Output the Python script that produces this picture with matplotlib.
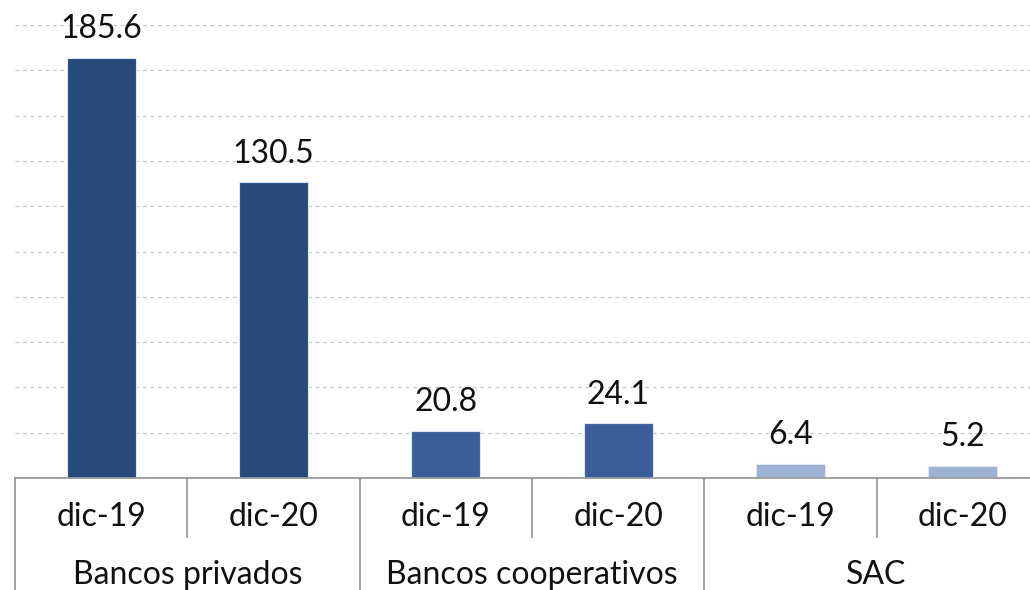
import matplotlib.pyplot as plt
import numpy as np

# Data
groups = ['Bancos privados', 'Bancos cooperativos', 'SAC']
periods = ['dic-19', 'dic-20']
values = [185.6, 130.5, 20.8, 24.1, 6.4, 5.2]
group_colors = ['#264a7a', '#3a5e9a', '#9cb1d4']

plt.rcParams['font.family'] = ['Lato', 'DejaVu Sans']

fig = plt.figure(figsize=(10.3, 5.9), dpi=100)
ax = fig.add_axes([15 / 1030, 112 / 590, 1 - 15 / 1030, 453 / 590])

x = np.arange(len(values))
colors = [group_colors[i // len(periods)] for i in range(len(values))]
bars = ax.bar(x, values, width=0.4, color=colors, edgecolor='#dfe6f0',
              linewidth=0.8, zorder=3)

for rect, v in zip(bars, values):
    ax.annotate('%.1f' % v, (rect.get_x() + rect.get_width() / 2, v),
                xytext=(0, 10), textcoords='offset points',
                ha='center', va='bottom', fontsize=23, color='#111111',
                annotation_clip=False)

ax.set_ylim(0, 200)
ax.set_xlim(-0.5, 5.39)
ax.set_yticks(np.arange(20, 201, 20))
ax.yaxis.grid(True, color='#c8c8c8', linestyle=(0, (3, 3)), linewidth=0.9,
              zorder=0)
ax.tick_params(left=False, labelleft=False, bottom=False, labelbottom=False)
for s in ['top', 'right', 'left']:
    ax.spines[s].set_visible(False)
ax.spines['bottom'].set_color('#9a9a9a')
ax.spines['bottom'].set_linewidth(1.3)
ax.spines['bottom'].set_zorder(4)

trans = ax.get_xaxis_transform()
# period labels and short separators
for i, p in enumerate(periods * len(groups)):
    ax.text(i, -0.087, p, transform=trans, ha='center', va='center',
            fontsize=23, color='#111111')
for k in range(len(groups)):
    xs = k * len(periods) + 0.5
    ax.plot([xs, xs], [0, -0.13], transform=trans, color='#9a9a9a',
            linewidth=1.3, clip_on=False)
# group labels and long separators
for k, g in enumerate(groups):
    xc = k * len(periods) + (len(periods) - 1) / 2
    ax.text(xc, -0.215, g, transform=trans, ha='center', va='center',
            fontsize=23, color='#111111')
    xs = k * len(periods) - 0.5
    ax.plot([xs, xs], [0, -0.3], transform=trans, color='#9a9a9a',
            linewidth=1.3, clip_on=False)

fig.savefig('out.png', dpi=100)
